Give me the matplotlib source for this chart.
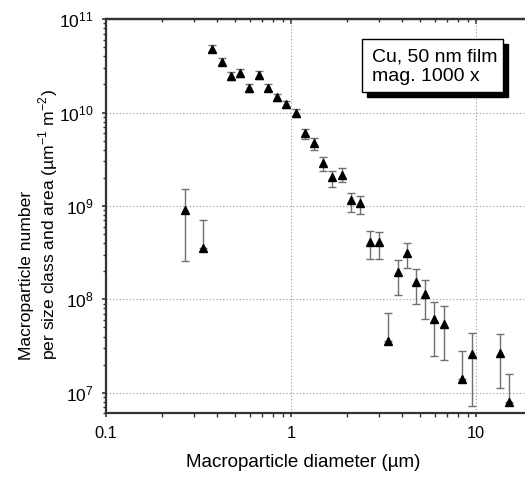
import numpy as np
import matplotlib
matplotlib.use("Agg")
import matplotlib.pyplot as plt
from matplotlib.patches import Rectangle
from matplotlib.ticker import LogLocator, NullFormatter

plt.rcParams["font.family"] = ["Liberation Sans", "DejaVu Sans"]

# macroparticle diameter (um)
diameter = [0.266, 0.336,
            0.374, 0.424, 0.472, 0.530, 0.595, 0.669, 0.748, 0.840, 0.943, 1.06,
            1.19, 1.336, 1.49, 1.67, 1.88, 2.11, 2.37, 2.66, 2.99, 3.36, 3.76,
            4.22, 4.72, 5.30, 5.95, 6.69, 8.43, 9.48, 13.4, 15.0]
# number per size class and area (um^-1 m^-2)
number = [9.0e8, 3.56e8,
          4.77e10, 3.49e10, 2.45e10, 2.66e10, 1.82e10, 2.53e10, 1.84e10, 1.46e10,
          1.22e10, 1.0e10, 6.07e9, 4.74e9, 2.89e9, 2.05e9, 2.17e9, 1.15e9, 1.07e9,
          4.1e8, 4.1e8, 3.6e7, 1.94e8, 3.15e8, 1.54e8, 1.13e8, 6.1e7, 5.4e7,
          1.42e7, 2.57e7, 2.67e7, 8.0e6]
# error bar ends
err_high = [1.51e9, 7.05e8,
            5.27e10, 3.85e10, 2.73e10, 2.89e10, 2.01e10, 2.75e10, 2.01e10, 1.58e10,
            1.33e10, 1.10e10, 6.7e9, 5.28e9, 3.36e9, 2.34e9, 2.52e9, 1.38e9, 1.29e9,
            5.37e8, 5.3e8, 7.06e7, 2.67e8, 4.03e8, 2.1e8, 1.61e8, 9.4e7, 8.5e7,
            2.81e7, 4.31e7, 4.24e7, 1.57e7]
err_low = [2.6e8, 3.56e8,
           4.4e10, 3.19e10, 2.21e10, 2.41e10, 1.65e10, 2.3e10, 1.68e10, 1.33e10,
           1.11e10, 9.0e9, 5.15e9, 3.98e9, 2.38e9, 1.6e9, 1.79e9, 8.7e8, 8.2e8,
           2.69e8, 2.7e8, 3.6e7, 1.11e8, 2.16e8, 8.9e7, 6.1e7, 2.5e7, 2.23e7,
           1.42e7, 7.2e6, 1.12e7, 8.0e6]

x = np.array(diameter)
y = np.array(number)
yerr = [y - np.array(err_low), np.array(err_high) - y]

W, H = 525, 478
fig = plt.figure(figsize=(W / 100, H / 100), dpi=100)
ax = fig.add_axes([0.202, 0.135, 0.811, 0.825])

ax.errorbar(x, y, yerr=yerr, fmt="none", ecolor="#707070", elinewidth=1.0,
            capsize=3, capthick=1.0, zorder=2)
ax.plot(x, y, linestyle="none", marker="^", color="black", markersize=5.5, zorder=3)

ax.set_xscale("log")
ax.set_yscale("log")
ax.set_xlim(0.1, 20)
ax.set_ylim(6.0e6, 1e11)

ax.grid(True, which="major", linestyle=(0, (1, 2)), color="#999999", linewidth=0.8)

ax.spines["right"].set_visible(False)
for side in ["left", "bottom", "top"]:
    ax.spines[side].set_linewidth(1.6)
    ax.spines[side].set_color("#333333")

ax.set_xticks([0.1, 1, 10])
ax.set_xticklabels(["0.1", "1", "10"])
ax.xaxis.set_minor_locator(LogLocator(base=10, subs=np.arange(2, 10)))
ax.xaxis.set_minor_formatter(NullFormatter())
ax.yaxis.set_major_locator(LogLocator(base=10, numticks=20))
ax.yaxis.set_minor_locator(LogLocator(base=10, subs=np.arange(2, 10), numticks=20))
ax.yaxis.set_minor_formatter(NullFormatter())

ax.tick_params(which="both", direction="out", top=False, right=False,
               color="#333333")
ax.tick_params(axis="x", which="major", length=3, width=1.2, labelsize=11.8, pad=6)
ax.tick_params(axis="x", which="minor", length=3, width=1.0)
ax.tick_params(axis="y", which="major", length=3, width=1.2, labelsize=12.5, pad=6)
ax.tick_params(axis="y", which="minor", length=2.5, width=1.0)

# top axis: inward ticks, no labels
top = ax.secondary_xaxis("top")
top.set_xticks([0.1, 1, 10])
top.xaxis.set_minor_locator(LogLocator(base=10, subs=np.arange(2, 10)))
top.xaxis.set_minor_formatter(NullFormatter())
top.tick_params(which="both", direction="in", labeltop=False, color="#333333")
top.tick_params(which="major", length=3.5, width=1.2)
top.tick_params(which="minor", length=2.5, width=1.0)
top.spines["top"].set_linewidth(1.6)
top.spines["top"].set_color("#333333")

ax.set_xlabel("Macroparticle diameter (µm)", fontsize=13.5)
ax.xaxis.set_label_coords(0.464, -0.103)
ylab = ax.set_ylabel("Macroparticle number\nper size class and area (µm$^{\\mathregular{-1}}$ m$^{\\mathregular{-2}}$)",
                     fontsize=12.6, linespacing=1.15)
ylab.set_multialignment("left")
ax.yaxis.set_label_coords(-0.108, 0.48)

# label box with drop shadow
bx, by, bw, bh = 362, 39, 141, 53
fig.patches.append(Rectangle(((bx + 5) / W, 1 - (by + bh + 5) / H), bw / W, bh / H,
                             transform=fig.transFigure, facecolor="black",
                             edgecolor="black", zorder=4))
fig.patches.append(Rectangle((bx / W, 1 - (by + bh) / H), bw / W, bh / H,
                             transform=fig.transFigure, facecolor="white",
                             edgecolor="black", linewidth=1.0, zorder=5))
fig.text(372 / W, 1 - 66.5 / H, "Cu, 50 nm film\nmag. 1000 x", fontsize=14,
         ha="left", va="center", linespacing=1.2, zorder=6)

fig.savefig("out.png", dpi=100)
